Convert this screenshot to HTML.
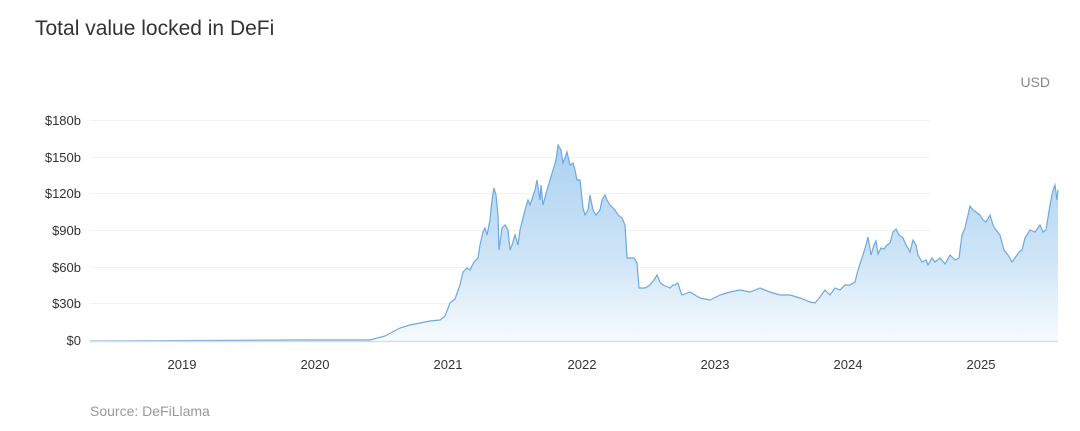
<!DOCTYPE html>
<html><head><meta charset="utf-8"><style>
body{margin:0;background:#fff;width:1080px;height:426px;overflow:hidden;font-family:"Liberation Sans",sans-serif}
</style></head><body>
<svg width="1080" height="426" xmlns="http://www.w3.org/2000/svg" font-family="Liberation Sans, sans-serif">
<defs><linearGradient id="g" x1="0" y1="140" x2="0" y2="341" gradientUnits="userSpaceOnUse">
<stop offset="0" stop-color="#a9d0f0"/><stop offset="0.6" stop-color="#cfe5f7"/><stop offset="1" stop-color="#f7fbfe"/></linearGradient></defs>
<text x="35" y="35" font-size="21" fill="#333">Total value locked in DeFi</text>
<text x="1050" y="87" font-size="14" fill="#888" text-anchor="end">USD</text>
<g stroke="#f2f2f2" stroke-width="1">
<line x1="90" y1="120.5" x2="930" y2="120.5"/><line x1="90" y1="157.5" x2="930" y2="157.5"/><line x1="90" y1="193.5" x2="930" y2="193.5"/><line x1="90" y1="230.5" x2="930" y2="230.5"/><line x1="90" y1="267.5" x2="930" y2="267.5"/><line x1="90" y1="303.5" x2="930" y2="303.5"/></g>
<g font-size="13" fill="#333" text-anchor="end">
<text x="81" y="125">$180b</text><text x="81" y="162">$150b</text><text x="81" y="198">$120b</text><text x="81" y="235">$90b</text><text x="81" y="272">$60b</text><text x="81" y="308">$30b</text><text x="81" y="345">$0</text></g>
<g font-size="13" fill="#333" text-anchor="middle">
<text x="182" y="369">2019</text><text x="315" y="369">2020</text><text x="448" y="369">2021</text><text x="582" y="369">2022</text><text x="715" y="369">2023</text><text x="848" y="369">2024</text><text x="981" y="369">2025</text></g>
<polygon fill="url(#g)" points="90,341 300,340 340,340 370,340 385,336 400,328 410,325 420,323 430,321 440,320 445,316 450,303 455,299 460,285 463,272 467,268 470,270 474,262 478,258 480,245 483,232 485,228 487,235 490,220 492,200 494,188 496,195 498,215 499,250 502,228 505,225 508,230 510,250 512,245 515,235 518,245 520,230 525,210 528,200 530,205 535,190 537,180 540,200 541,185 543,205 547,190 550,180 553,170 556,160 558,145 561,150 563,163 565,158 567,152 570,165 573,163 575,170 577,180 580,180 583,208 585,215 588,210 590,195 593,210 596,215 600,210 602,200 605,195 607,200 610,205 615,210 618,215 622,218 625,225 627,258 630,258 634,258 637,263 639,288 645,288 650,285 654,280 657,275 660,282 663,285 668,287 670,288 673,285 675,285 678,283 680,290 682,295 690,292 700,298 710,300 720,295 730,292 740,290 750,292 760,288 770,292 780,295 790,295 800,298 810,302 815,303 820,297 825,290 830,295 835,288 840,290 845,285 850,285 855,282 858,270 862,258 866,245 868,237 871,255 874,245 876,241 878,254 881,248 884,249 887,245 890,243 893,232 896,229 899,235 903,238 906,245 908,248 910,252 913,240 916,245 918,255 922,262 926,260 928,265 932,258 935,262 940,258 945,264 950,255 955,260 959,258 962,235 965,228 968,215 970,206 973,210 976,212 980,215 983,220 986,222 990,215 993,225 996,230 1000,235 1004,250 1008,255 1012,262 1015,258 1019,252 1022,250 1025,238 1030,230 1035,232 1040,225 1043,232 1046,230 1050,205 1053,190 1055,185 1057,200 1058,190 1058,341"/>
<polyline fill="none" stroke="#6fa8dc" stroke-width="1.2" points="90,341 300,340 340,340 370,340 385,336 400,328 410,325 420,323 430,321 440,320 445,316 450,303 455,299 460,285 463,272 467,268 470,270 474,262 478,258 480,245 483,232 485,228 487,235 490,220 492,200 494,188 496,195 498,215 499,250 502,228 505,225 508,230 510,250 512,245 515,235 518,245 520,230 525,210 528,200 530,205 535,190 537,180 540,200 541,185 543,205 547,190 550,180 553,170 556,160 558,145 561,150 563,163 565,158 567,152 570,165 573,163 575,170 577,180 580,180 583,208 585,215 588,210 590,195 593,210 596,215 600,210 602,200 605,195 607,200 610,205 615,210 618,215 622,218 625,225 627,258 630,258 634,258 637,263 639,288 645,288 650,285 654,280 657,275 660,282 663,285 668,287 670,288 673,285 675,285 678,283 680,290 682,295 690,292 700,298 710,300 720,295 730,292 740,290 750,292 760,288 770,292 780,295 790,295 800,298 810,302 815,303 820,297 825,290 830,295 835,288 840,290 845,285 850,285 855,282 858,270 862,258 866,245 868,237 871,255 874,245 876,241 878,254 881,248 884,249 887,245 890,243 893,232 896,229 899,235 903,238 906,245 908,248 910,252 913,240 916,245 918,255 922,262 926,260 928,265 932,258 935,262 940,258 945,264 950,255 955,260 959,258 962,235 965,228 968,215 970,206 973,210 976,212 980,215 983,220 986,222 990,215 993,225 996,230 1000,235 1004,250 1008,255 1012,262 1015,258 1019,252 1022,250 1025,238 1030,230 1035,232 1040,225 1043,232 1046,230 1050,205 1053,190 1055,185 1057,200 1058,190"/>
<line x1="90" y1="341.5" x2="1058" y2="341.5" stroke="#ddd" stroke-width="1.5"/>
<text x="90" y="416" font-size="14" fill="#999">Source: DeFiLlama</text>
</svg>
</body></html>
